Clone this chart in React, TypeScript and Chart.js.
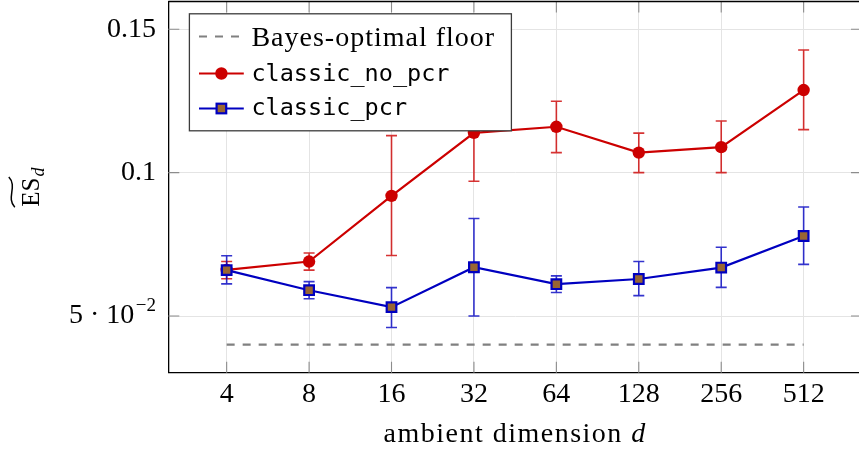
import React, { useEffect, useRef } from 'react';
import { Chart, registerables } from 'chart.js';

Chart.register(...registerables);

// ---- data ----
const dims = [4, 8, 16, 32, 64, 128, 256, 512];
const floorValues = [0.04, 0.04, 0.04, 0.04, 0.04, 0.04, 0.04, 0.04];
const noPcr = [0.0661, 0.069, 0.0919, 0.1139, 0.116, 0.107, 0.1089, 0.1288];
const noPcrLo = [0.063, 0.066, 0.0711, 0.097, 0.107, 0.1, 0.1, 0.115];
const noPcrHi = [0.069, 0.072, 0.1129, 0.131, 0.1249, 0.1138, 0.118, 0.1428];
const pcr = [0.066, 0.059, 0.0531, 0.067, 0.0611, 0.0629, 0.0669, 0.0779];
const pcrLo = [0.0612, 0.056, 0.046, 0.05, 0.0582, 0.0571, 0.06, 0.068];
const pcrHi = [0.071, 0.062, 0.0599, 0.084, 0.064, 0.069, 0.074, 0.088];
const yTicks = [0.05, 0.1, 0.15];
const yTickLabels = ['5 · 10', '0.1', '0.15'];
const yTickExp = ['−2', '', ''];
const seriesNames = ['Bayes-optimal floor', 'classic_no_pcr', 'classic_pcr'];
const xTitleText = 'ambient dimension ';
const xTitleVar = 'd';
const yTitleText = 'ES';
const yTitleSub = 'd';

// ---- style ----
const RED = 'rgb(204,0,0)';
const RED_ERR = 'rgba(204,0,0,0.8)';
const BLUE = 'rgb(0,0,192)';
const BLUE_ERR = 'rgba(0,0,192,0.8)';
const BROWN = 'rgb(153,102,51)';
const GRAY = 'rgb(128,128,128)';
const SERIF = "'Liberation Serif', serif";
const MONO = "'DejaVu Sans Mono', monospace";

const errorPlugin = {
  id: 'errbars',
  beforeDatasetDraw(chart: any, args: any) {
    const ds = chart.data.datasets[args.index];
    if (!ds.errLo) return;
    const { ctx } = chart;
    const xs = chart.scales.x;
    const ys = chart.scales.y;
    ctx.save();
    ctx.strokeStyle = ds.errColor;
    ctx.lineWidth = 1.6;
    ds.data.forEach((pt: any, i: number) => {
      const px = xs.getPixelForValue(pt.x);
      const yl = ys.getPixelForValue(ds.errLo[i]);
      const yh = ys.getPixelForValue(ds.errHi[i]);
      ctx.beginPath();
      ctx.moveTo(px, yl);
      ctx.lineTo(px, yh);
      ctx.moveTo(px - 5.5, yl);
      ctx.lineTo(px + 5.5, yl);
      ctx.moveTo(px - 5.5, yh);
      ctx.lineTo(px + 5.5, yh);
      ctx.stroke();
    });
    ctx.restore();
  },
};

const framePlugin = {
  id: 'frame',
  beforeDatasetsDraw(chart: any) {
    const { ctx, chartArea: a } = chart;
    const xs = chart.scales.x;
    const ys = chart.scales.y;
    const tl = 11;
    ctx.save();
    ctx.strokeStyle = 'rgb(140,140,140)';
    ctx.lineWidth = 1.1;
    ctx.beginPath();
    dims.forEach((d) => {
      const px = xs.getPixelForValue(d);
      ctx.moveTo(px, a.bottom);
      ctx.lineTo(px, a.bottom - tl);
      ctx.moveTo(px, a.top);
      ctx.lineTo(px, a.top + tl);
    });
    yTicks.forEach((v) => {
      const py = ys.getPixelForValue(v);
      ctx.moveTo(a.left, py);
      ctx.lineTo(a.left + tl, py);
      ctx.moveTo(a.right, py);
      ctx.lineTo(a.right - tl, py);
    });
    ctx.stroke();
    ctx.restore();
  },
  afterDatasetsDraw(chart: any) {
    const { ctx, chartArea: a } = chart;
    ctx.save();
    ctx.strokeStyle = '#000';
    ctx.lineWidth = 1.3;
    ctx.beginPath();
    ctx.moveTo(a.left, a.top);
    ctx.lineTo(a.right, a.top);
    ctx.lineTo(a.right, a.bottom);
    ctx.stroke();
    ctx.restore();
  },
  afterDraw(chart: any) {
    const { ctx, chartArea: a } = chart;
    const ys = chart.scales.y;
    ctx.save();
    ctx.fillStyle = '#000';
    // y tick label with exponent
    yTicks.forEach((v, i) => {
      if (!yTickExp[i]) return;
      const py = ys.getPixelForValue(v);
      const right = a.left - 12.3;
      ctx.font = `19px ${SERIF}`;
      const we = ctx.measureText(yTickExp[i]).width;
      ctx.textAlign = 'right';
      ctx.textBaseline = 'middle';
      ctx.fillText(yTickExp[i], right, py - 9.5);
      ctx.font = `28px ${SERIF}`;
      ctx.fillText(yTickLabels[i], right - we - 1.5, py);
    });
    // x title
    ctx.textBaseline = 'alphabetic';
    ctx.textAlign = 'left';
    (ctx as any).letterSpacing = '1.5px';
    ctx.font = `28px ${SERIF}`;
    const w1 = ctx.measureText(xTitleText).width;
    ctx.font = `italic 28px ${SERIF}`;
    const w2 = ctx.measureText(xTitleVar).width;
    const cx = (a.left + a.right) / 2;
    const x0 = cx - (w1 + w2) / 2;
    ctx.font = `28px ${SERIF}`;
    ctx.fillText(xTitleText, x0, 441.7);
    ctx.font = `italic 28px ${SERIF}`;
    ctx.fillText(xTitleVar, x0 + w1, 441.7);
    (ctx as any).letterSpacing = '0px';
    // y title
    ctx.font = `25px ${SERIF}`;
    const we = ctx.measureText(yTitleText).width;
    ctx.font = `italic 18px ${SERIF}`;
    const wd = ctx.measureText(yTitleSub).width;
    const cy = (a.top + a.bottom) / 2;
    const blockW = we + 1 + wd;
    ctx.translate(39.3, cy + blockW / 2);
    ctx.rotate(-Math.PI / 2);
    ctx.font = `25px ${SERIF}`;
    ctx.fillText(yTitleText, 0, 0);
    ctx.font = `italic 18px ${SERIF}`;
    ctx.fillText(yTitleSub, we + 1, 4.5);
    ctx.strokeStyle = '#000';
    ctx.lineWidth = 1.5;
    ctx.beginPath();
    ctx.moveTo(-0.5, -24.5);
    ctx.bezierCurveTo(we * 0.3, -33.5, we * 0.7, -21.5, we + 0.5, -30.5);
    ctx.stroke();
    ctx.restore();

    // legend
    const lx = a.left + 21.1;
    const ly = a.top + 12.3;
    const lw = 322;
    const lh = 117;
    ctx.save();
    ctx.fillStyle = '#fff';
    ctx.fillRect(lx, ly, lw, lh);
    ctx.strokeStyle = 'rgb(60,60,60)';
    ctx.lineWidth = 1.3;
    ctx.strokeRect(lx, ly, lw, lh);
    const rowsY = [22.7, 59.7, 94.7];
    const baseY = [32, 67.2, 101.6];
    const sx0 = lx + 9.6;
    const sx1 = lx + 54.4;
    const mx = (sx0 + sx1) / 2;
    // row 1: dashed
    ctx.strokeStyle = GRAY;
    ctx.lineWidth = 2.2;
    ctx.setLineDash([8, 8]);
    ctx.beginPath();
    ctx.moveTo(sx0, ly + rowsY[0]);
    ctx.lineTo(sx1, ly + rowsY[0]);
    ctx.stroke();
    ctx.setLineDash([]);
    // row 2
    ctx.strokeStyle = RED;
    ctx.lineWidth = 2.2;
    ctx.beginPath();
    ctx.moveTo(sx0, ly + rowsY[1]);
    ctx.lineTo(sx1, ly + rowsY[1]);
    ctx.stroke();
    ctx.fillStyle = RED;
    ctx.beginPath();
    ctx.arc(mx, ly + rowsY[1], 6.2, 0, Math.PI * 2);
    ctx.fill();
    // row 3
    ctx.strokeStyle = BLUE;
    ctx.lineWidth = 2.2;
    ctx.beginPath();
    ctx.moveTo(sx0, ly + rowsY[2]);
    ctx.lineTo(sx1, ly + rowsY[2]);
    ctx.stroke();
    ctx.fillStyle = BROWN;
    ctx.fillRect(mx - 4.8, ly + rowsY[2] - 4.8, 9.6, 9.6);
    ctx.lineWidth = 2.2;
    ctx.strokeRect(mx - 4.8, ly + rowsY[2] - 4.8, 9.6, 9.6);
    // text
    ctx.fillStyle = '#000';
    ctx.textAlign = 'left';
    ctx.textBaseline = 'alphabetic';
    (ctx as any).letterSpacing = '1px';
    ctx.font = `28px ${SERIF}`;
    ctx.fillText(seriesNames[0], lx + 62, ly + baseY[0]);
    (ctx as any).letterSpacing = '0px';
    ctx.font = `23.5px ${MONO}`;
    ctx.fillText(seriesNames[1], lx + 62, ly + baseY[1]);
    ctx.fillText(seriesNames[2], lx + 62, ly + baseY[2]);
    ctx.restore();
  },
};

export default function App() {
  const ref = useRef<HTMLCanvasElement | null>(null);
  useEffect(() => {
    if (!ref.current) return;
    const chart = new Chart(ref.current, {
      type: 'line',
      data: {
        datasets: [
          {
            label: seriesNames[0],
            data: dims.map((d, i) => ({ x: d, y: floorValues[i] })),
            borderColor: GRAY,
            borderWidth: 2.2,
            borderDash: [8, 8],
            pointRadius: 0,
            order: 3,
          },
          {
            label: seriesNames[1],
            data: dims.map((d, i) => ({ x: d, y: noPcr[i] })),
            borderColor: RED,
            borderWidth: 2.2,
            pointStyle: 'circle',
            pointRadius: 6.2,
            pointBackgroundColor: RED,
            pointBorderColor: RED,
            pointBorderWidth: 0,
            errLo: noPcrLo,
            errHi: noPcrHi,
            errColor: RED_ERR,
            order: 2,
          } as any,
          {
            label: seriesNames[2],
            data: dims.map((d, i) => ({ x: d, y: pcr[i] })),
            borderColor: BLUE,
            borderWidth: 2.2,
            pointStyle: 'rect',
            pointRadius: 6.8,
            pointBackgroundColor: BROWN,
            pointBorderColor: BLUE,
            pointBorderWidth: 2.2,
            errLo: pcrLo,
            errHi: pcrHi,
            errColor: BLUE_ERR,
            order: 1,
          } as any,
        ],
      },
      options: {
        responsive: false,
        animation: false,
        events: [],
        layout: { autoPadding: false, padding: { left: 0, top: 1.5, right: 8, bottom: 0 } },
        plugins: { legend: { display: false }, tooltip: { enabled: false } },
        scales: {
          x: {
            type: 'logarithmic',
            min: Math.pow(2, 1.292),
            max: Math.pow(2, 9.708),
            afterFit: (s: any) => {
              s.height = 76.3;
              s.paddingLeft = 0;
              s.paddingRight = 0;
            },
            afterBuildTicks: (s: any) => {
              s.ticks = dims.map((v) => ({ value: v }));
            },
            ticks: {
              autoSkip: false,
              maxRotation: 0,
              padding: 5,
              color: '#000',
              font: { family: SERIF, size: 28 },
              callback: (v: any) => String(v),
            },
            grid: { color: 'rgb(228,228,228)', lineWidth: 1, drawTicks: false },
            border: { color: '#000', width: 1.3 },
          },
          y: {
            type: 'linear',
            min: 0.03023,
            max: 0.15969,
            afterFit: (s: any) => {
              s.width = 168.3;
              s.paddingTop = 0;
              s.paddingBottom = 0;
            },
            afterBuildTicks: (s: any) => {
              s.ticks = yTicks.map((v) => ({ value: v }));
            },
            ticks: {
              padding: 12.3,
              color: '#000',
              font: { family: SERIF, size: 28 },
              callback: (v: any) => {
                const i = yTicks.indexOf(v);
                return i >= 0 && !yTickExp[i] ? yTickLabels[i] : '';
              },
            },
            grid: { color: 'rgb(228,228,228)', lineWidth: 1, drawTicks: false },
            border: { color: '#000', width: 1.3 },
          },
        },
      },
      plugins: [errorPlugin, framePlugin],
    } as any);
    return () => chart.destroy();
  }, []);
  return (
    <div style={{ position: 'fixed', left: 0, top: 0, width: 859, height: 449, overflow: 'hidden', background: '#fff' }}>
      <canvas ref={ref} width={870} height={449} style={{ display: 'block' }} />
    </div>
  );
}
